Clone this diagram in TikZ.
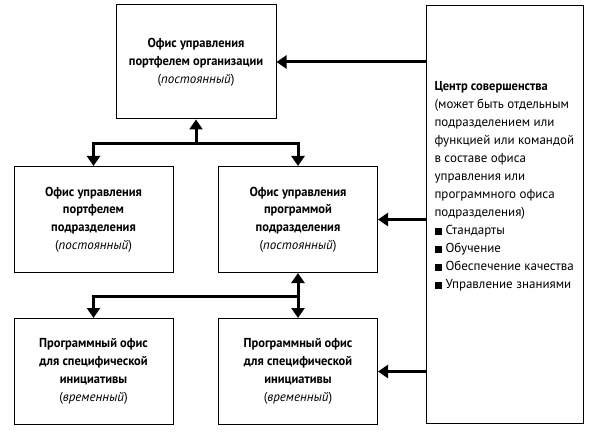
\documentclass[tikz,border=0pt]{standalone}
\usepackage{fontspec}
\setmainfont{PT Sans}[FakeStretch=1.0, BoldFeatures={FakeStretch=0.96}]
\usetikzlibrary{arrows.meta}

\tikzset{
    office/.style = {draw, rectangle, line width = 1pt, minimum width = 159pt, minimum height = 106pt, align = center, font = \bfseries\fontsize{13}{17.8}\selectfont},
    link/.style = {-{Triangle[width = 13pt, length = 10pt]}, line width = 3pt},
}
\newcommand{\sqbul}{\rule{7pt}{7pt}\hspace{4pt}}
\newcommand{\kind}[1]{\mdseries(\textit{#1})}

\begin{document}
\begin{tikzpicture}[x = 1pt, y = -1pt]
        \useasboundingbox (0, 0) rectangle (595, 433);

        % Nodes
        \node [office, minimum width = 160pt, minimum height = 114pt] (top) at (196, 62) {Офис управления\\портфелем организации\\\kind{постоянный}};
        \node [office] (mleft) at (93.5, 219.5) {Офис управления\\портфелем\\подразделения\\\kind{постоянный}};
        \node [office] (mright) at (298, 219.5) {Офис управления\\программой\\подразделения\\\kind{постоянный}};
        \node [office] (bleft) at (93.5, 371.5) {Программный офис\\для специфической\\инициативы\\\kind{временный}};
        \node [office] (bright) at (298, 371.5) {Программный офис\\для специфической\\инициативы\\\kind{временный}};
        \node [draw, rectangle, line width = 1pt, minimum width = 157pt, minimum height = 417pt] (cx) at (504.5, 214.5) {};
        \node [anchor = north west, align = left, font = \fontsize{13}{18}\selectfont] (cxtext) at (431, 78) {\textbf{Центр совершенства}\\(может быть отдельным\\подразделением или\\функцией или командой\\в составе офиса\\управления или\\программного офиса\\подразделения)\\\sqbul Стандарты\\\sqbul Обучение\\\sqbul Обеспечение качества\\\sqbul Управление знаниями};

        % Draw the links
        \coordinate (j1) at (196, 144);
        \coordinate (j2) at (298, 296);
        \draw [link] (j1) -- (top.south);
        \draw [link] (j1) -| (mleft.north);
        \draw [link] (j1) -| (mright.north);
        \draw [link, {Triangle[width = 13pt, length = 10pt]}-{Triangle[width = 13pt, length = 10pt]}] (mright.south) -- (bright.north);
        \draw [link] (j2) -| (bleft.north);

        \draw [link] (cx.west |- top.east) -- (top.east);
        \draw [link] (cx.west |- mright.east) -- (mright.east);
        \draw [link] (cx.west |- bright.east) -- (bright.east);

    \end{tikzpicture}
\end{document}
